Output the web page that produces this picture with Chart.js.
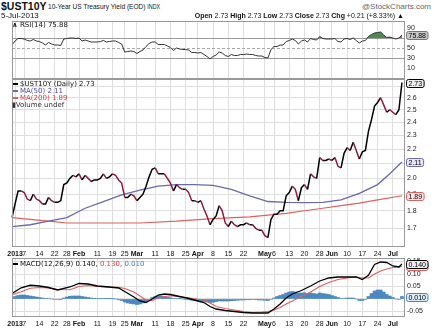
<!DOCTYPE html>
<html>
<head>
<meta charset="utf-8">
<title>$UST10Y</title>
<script src="https://cdn.jsdelivr.net/npm/chart.js@4.4.1/dist/chart.umd.min.js"></script>
<style>
  body { margin: 0; background: #fff; }
  #wrap { position: relative; width: 434px; height: 329px; overflow: hidden; background: #fff; }
  #wrap canvas { position: absolute; left: 0; }
  .t { position: absolute; white-space: nowrap; line-height: 1; font-family: "Liberation Sans", Arial, sans-serif; color: #111; }
  .lg { position: absolute; left: 12px; white-space: nowrap; line-height: 1; font: 7px "DejaVu Sans", sans-serif; color: #111; }
  .dash { display: inline-block; width: 5px; height: 2px; vertical-align: middle; margin: 0 2px 1px 1px; }
</style>
</head>
<body>
<div id="wrap">
  <canvas id="rsi" width="434" height="62" style="top:18px"></canvas>
  <canvas id="main" width="434" height="185" style="top:79px"></canvas>
  <canvas id="macd" width="434" height="71" style="top:258px"></canvas>

  <div class="t" style="left:1px;top:1px;font-size:10.5px;font-weight:bold">$UST10Y</div>
  <div class="t" style="left:48px;top:3px;font-size:8px;transform:scaleX(0.82);transform-origin:0 0">10-Year US Treasury Yield (EOD) <span style="font-size:6.5px">INDX</span></div>
  <div class="t" style="right:3px;top:3px;font-size:8px;color:#666">@StockCharts.com</div>
  <div class="t" style="left:1px;top:12px;font-size:8px">5-Jul-2013</div>
  <div class="t" style="right:30px;top:12px;font-size:7px"><b>Open</b> 2.73 <b>High</b> 2.73 <b>Low</b> 2.73 <b>Close</b> 2.73 <b>Chg</b> +0.21 (+8.33%) ▲</div>

  <div class="lg" style="top:21px"><b>∧</b> RSI(14) 75.88</div>
  <div class="lg" style="top:80px"><span class="dash" style="background:#000"></span>$UST10Y (Daily) 2.73</div>
  <div class="lg" style="top:87px;color:#4a4a9a"><span class="dash" style="background:#6a6aaa"></span>MA(50) 2.11</div>
  <div class="lg" style="top:94px;color:#d04545"><span class="dash" style="background:#e06060"></span>MA(200) 1.89</div>
  <div class="lg" style="top:101px;color:#333"><b>▮</b>Volume undef</div>
  <div class="lg" style="top:260px"><span class="dash" style="background:#000"></span>MACD(12,26,9) 0.140, <span style="color:#d04545">0.130</span>, <span style="color:#3a8ac0">0.010</span></div>
</div>

<script>
// trading days shown, Dec 31 2012 .. Jul 5 2013
const dec = [31];
const jan = [2,3,4,7,8,9,10,11,14,15,16,17,18,22,23,24,25,28,29,30,31];
const feb = [1,4,5,6,7,8,11,12,13,14,15,19,20,21,22,25,26,27,28];
const mar = [1,4,5,6,7,8,11,12,13,14,15,18,19,20,21,22,25,26,27,28];
const apr = [1,2,3,4,5,8,9,10,11,12,15,16,17,18,19,22,23,24,25,26,29,30];
const may = [1,2,3,6,7,8,9,10,13,14,15,16,17,20,21,22,23,24,28,29,30,31];
const jun = [3,4,5,6,7,10,11,12,13,14,17,18,19,20,21,24,25,26,27,28];
const jul = [1,2,3,5];

const tickDays = ['1/2','1/7','1/14','1/22','1/28','2/1','2/11','2/19','2/25','3/1','3/11','3/18','3/25','4/1','4/8','4/15','4/22','5/1','5/6','5/13','5/20','5/28','6/3','6/10','6/17','6/24','7/1'];
const tickText = ['2013','7','14','22','28','Feb','11','19','25','Mar','11','18','25','Apr','8','15','22','May','6','13','20','28','Jun','10','17','24','Jul'];
const boldTicks = ['2013','Feb','Mar','Apr','May','Jun','Jul'];

// close
const price = [1.76,
  1.84,1.92,1.92,1.91,1.87,1.86,1.90,1.87,1.86,1.84,1.84,1.88,1.86,1.85,1.85,1.86,1.96,1.97,2.00,2.02,2.01,
  2.03,1.99,2.02,2.00,1.98,1.99,1.99,2.00,2.03,2.00,2.01,2.03,2.02,1.99,1.97,1.88,1.88,1.90,1.89,
  1.86,1.88,1.90,1.95,2.01,2.06,2.07,2.03,2.03,2.03,2.00,1.97,1.92,1.96,1.94,1.93,1.93,1.91,1.86,1.86,
  1.85,1.86,1.81,1.77,1.72,1.75,1.77,1.83,1.80,1.73,1.71,1.74,1.72,1.71,1.72,1.72,1.73,1.72,1.72,1.70,1.69,1.69,
  1.66,1.65,1.75,1.78,1.78,1.80,1.80,1.89,1.91,1.95,1.93,1.86,1.94,1.96,1.93,2.03,2.01,2.00,2.14,2.12,2.12,2.13,
  2.12,2.14,2.08,2.07,2.17,2.21,2.19,2.25,2.19,2.13,2.18,2.19,2.33,2.42,2.53,2.56,2.60,2.54,2.48,2.50,
  2.48,2.46,2.50,2.73];

// moving averages, read at a few dates (index into the day list)
const ma50Idx = [0,6,12,18,24,30,36,42,48,54,60,66,72,78,84,90,96,102,108,114,120,124,128];
const ma50 = [1.71,1.72,1.74,1.76,1.815,1.855,1.895,1.925,1.95,1.96,1.96,1.955,1.93,1.89,1.855,1.85,1.848,1.85,1.865,1.905,1.96,2.03,2.11];
const ma200Idx = [0,6,12,18,30,42,54,66,78,84,90,96,102,108,114,120,128];
const ma200 = [1.76,1.75,1.74,1.73,1.73,1.73,1.74,1.755,1.765,1.775,1.785,1.80,1.815,1.83,1.845,1.865,1.89];

// RSI(14)
const rsi = [56,
  64,69,69,68,65,64,67,64,63,60,56,61,58,56,56,55,68,69,70,70,69,
  70,64,66,64,62,62,62,63,65,62,63,64,64,61,58,42,43,44,43,
  39,43,46,53,59,62,62,57,57,57,54,51,45,50,48,47,47,46,41,41,
  40,41,37,33,28,33,36,42,40,35,33,37,35,35,37,37,38,37,37,35,34,34,
  31,30,47,53,53,56,56,63,65,68,65,58,64,66,62,69,67,66,73,69,68,68,
  68,69,63,62,68,69,67,70,65,60,64,65,73,77,80,81,82,76,71,72,
  70,68,70,75.88];

// MACD(12,26,9)
const macdIdx = [0,3,6,9,12,15,19,22,25,28,32,35,37,40,42,44,46,48,50,52,55,58,61,63,65,67,70,73,76,79,82,84,86,88,90,92,95,98,101,104,107,110,113,115,117,119,121,123,125,127,128];
const macdLine = [0.022,0.045,0.055,0.052,0.046,0.036,0.048,0.062,0.060,0.052,0.048,0.044,0.030,0.008,-0.008,-0.014,0.000,0.016,0.020,0.018,0.010,0.002,-0.008,-0.014,-0.030,-0.040,-0.046,-0.050,-0.054,-0.056,-0.056,-0.056,-0.040,-0.020,0.004,0.020,0.034,0.052,0.072,0.084,0.088,0.088,0.088,0.078,0.095,0.138,0.148,0.146,0.132,0.128,0.140];
const signalLine = [0.017,0.029,0.043,0.046,0.044,0.038,0.037,0.050,0.054,0.050,0.047,0.047,0.042,0.028,0.012,-0.004,-0.006,0.004,0.010,0.013,0.009,0.005,-0.001,-0.004,-0.016,-0.030,-0.038,-0.044,-0.050,-0.054,-0.052,-0.050,-0.044,-0.034,-0.020,-0.008,0.010,0.028,0.050,0.066,0.078,0.084,0.088,0.084,0.084,0.100,0.112,0.120,0.126,0.128,0.130];
const hist = [
  0.005,0.010,0.014,0.016,0.016,0.014,0.012,0.010,0.008,0.006,
  0.004,0.002,0.002,0.000,-0.002,-0.002,-0.001,0.004,0.008,0.011,
  0.012,0.012,0.012,0.010,0.008,0.006,0.004,0.003,0.002,0.001,
  0.002,0.001,0.001,0.001,0.000,-0.003,-0.006,-0.012,-0.016,-0.018,
  -0.020,-0.022,-0.020,-0.016,-0.010,-0.002,0.006,0.010,0.012,0.012,
  0.010,0.008,0.005,0.002,0.002,0.001,0.000,-0.002,-0.003,-0.005,
  -0.006,-0.007,-0.008,-0.010,-0.012,-0.014,-0.013,-0.010,-0.008,-0.008,
  -0.008,-0.008,-0.007,-0.006,-0.005,-0.004,-0.004,-0.003,-0.003,-0.002,
  -0.003,-0.004,-0.004,-0.005,-0.006,-0.002,0.004,0.010,0.014,0.018,
  0.024,0.028,0.030,0.028,0.024,0.024,0.025,0.022,0.024,0.022,
  0.020,0.024,0.022,0.020,0.018,0.014,0.010,0.006,0.002,0.002,
  0.004,0.004,0.004,0.000,-0.006,-0.006,-0.002,0.010,0.022,0.032,
  0.036,0.036,0.028,0.018,0.012,0.006,0.000,-0.002,0.010];

const priceTicks = [1.7,1.8,1.9,2.0,2.1,2.2,2.3,2.4,2.5,2.6,2.7];
const rsiTicks = [10,30,50,70,90];
const macdTicks = [-0.05,0,0.05,0.10,0.15];

/* ---- build labels ---- */
const days = [];
[[12,dec],[1,jan],[2,feb],[3,mar],[4,apr],[5,may],[6,jun],[7,jul]].forEach(([m,list]) => list.forEach(d => days.push(m+'/'+d)));
const xLabels = days.concat(['']);
const tickIdx = tickDays.map(d => days.indexOf(d));
const tickMap = {};
tickIdx.forEach((i,k) => tickMap[i] = tickText[k]);
const pts = (idx, vals) => idx.map((i,k) => ({x: days[i], y: vals[k]}));

const family = '"Liberation Sans", Arial, sans-serif';
const gridColor = '#dedede';

/* ---- helpers ---- */
function xAxis(showLabels, h){
  return {
    offset:false,
    afterBuildTicks:s => { s.ticks = tickIdx.map(v => ({value:v})); },
    afterFit:s => { s.height = h; s.paddingLeft = 0; s.paddingRight = 0; },
    grid:{color:gridColor, drawTicks:false, offset:false},
    border:{display:false},
    ticks:{
      display:showLabels, autoSkip:false, maxRotation:0, padding:3, color:'#111',
      font:ctx => ({family, size:7, weight: ctx.tick && boldTicks.includes(tickMap[ctx.tick.value]) ? 'bold' : 'normal'}),
      callback:v => tickMap[v]
    }
  };
}

function yAxis(extra, vals, fmt){
  return Object.assign({
    position:'right',
    afterBuildTicks:s => { s.ticks = vals.map(v => ({value:v})); },
    afterFit:s => { s.width = 29; s.paddingTop = 0; s.paddingBottom = 0; },
    grid:{color:gridColor, drawTicks:false},
    border:{display:false},
    ticks:{padding:2, color:'#222', font:{family, size:7}, callback:fmt}
  }, extra);
}

// frame around the plot + boxed last values on the right axis
const panelFrame = {
  id:'panelFrame',
  afterDraw(chart, args, opts){
    const c = chart.ctx, a = chart.chartArea, y = chart.scales.y;
    c.save();
    c.strokeStyle = '#999';
    c.lineWidth = 1;
    c.strokeRect(a.left + 0.5, a.top + 0.5, a.right - a.left - 1, a.bottom - a.top - 1);
    c.font = '7px ' + family;
    c.textBaseline = 'middle';
    (opts.boxes || []).forEach(b => {
      const py = Math.round(y.getPixelForValue(b.value)) + 0.5;
      const w = c.measureText(b.text).width + 4;
      c.beginPath();
      c.roundRect(a.right + 1.5, py - 4, w, 8, 2);
      c.fillStyle = b.fill;
      c.fill();
      c.strokeStyle = b.color;
      c.stroke();
      c.fillStyle = '#000';
      c.fillText(b.text, a.right + 3.5, py + 0.5);
    });
    c.restore();
  }
};

const common = {
  responsive:false,
  animation:false,
  events:[],
};

/* ---- RSI panel ---- */
new Chart(document.getElementById('rsi'), {
  type:'line',
  data:{
    labels:xLabels,
    datasets:[{
      data:rsi,
      borderColor:'#333',
      borderWidth:1,
      pointRadius:0,
      fill:{target:{value:70}, above:'#4f8a4f', below:'rgba(0,0,0,0)'}
    }]
  },
  options:Object.assign({}, common, {
    layout:{padding:{left:12, top:3, bottom:1, right:0}},
    plugins:{legend:{display:false}, tooltip:{enabled:false},
      panelFrame:{boxes:[{value:75.88, text:'75.88', color:'#777', fill:'#c8c8c8'}]}},
    scales:{
      x:xAxis(false, 0),
      y:yAxis({min:-12, max:104,
        grid:{drawTicks:false, color:ctx => {
          const v = ctx.tick && ctx.tick.value;
          return (v === 70 || v === 30) ? '#9a9a9a' : v === 50 ? '#a8a8a8' : 'rgba(0,0,0,0)';
        }},
        border:{display:false, dash:ctx => (ctx.tick && ctx.tick.value === 50) ? [3,2] : []}
      }, rsiTicks, v => String(v))
    }
  }),
  plugins:[panelFrame]
});

/* ---- price panel ---- */
new Chart(document.getElementById('main'), {
  type:'line',
  data:{
    labels:xLabels,
    datasets:[
      {data:price, borderColor:'#000', borderWidth:1.5, pointRadius:0, order:0,
        segment:{borderColor:ctx => ctx.p1.parsed.y < ctx.p0.parsed.y ? '#8e1b3c' : '#000'}},
      {data:pts(ma50Idx, ma50), borderColor:'#6a6aaa', borderWidth:1.3, pointRadius:0, order:1},
      {data:pts(ma200Idx, ma200), borderColor:'#e06060', borderWidth:1.2, pointRadius:0, order:2}
    ]
  },
  options:Object.assign({}, common, {
    layout:{padding:{left:12, top:0, bottom:5, right:0}},
    plugins:{legend:{display:false}, tooltip:{enabled:false},
      panelFrame:{boxes:[
        {value:1.89, text:'1.89', color:'#e06060', fill:'#fbe3e3'},
        {value:2.11, text:'2.11', color:'#6a6aaa', fill:'#e6e6f6'},
        {value:2.73, text:'2.73', color:'#000', fill:'#eee'}
      ]}},
    scales:{
      x:xAxis(true, 12),
      y:yAxis({type:'logarithmic', min:1.648, max:2.763}, priceTicks, v => v.toFixed(1))
    }
  }),
  plugins:[panelFrame]
});

/* ---- MACD panel ---- */
new Chart(document.getElementById('macd'), {
  type:'bar',
  data:{
    labels:xLabels,
    datasets:[
      {type:'line', data:pts(macdIdx, macdLine), borderColor:'#000', borderWidth:1.3, pointRadius:0, order:0},
      {type:'line', data:pts(macdIdx, signalLine), borderColor:'#e06060', borderWidth:1.2, pointRadius:0, order:1},
      {type:'bar', data:hist, backgroundColor:'#4a88c4', barPercentage:1, categoryPercentage:1, order:2}
    ]
  },
  options:Object.assign({}, common, {
    layout:{padding:{left:12, top:0, bottom:0, right:0}},
    plugins:{legend:{display:false}, tooltip:{enabled:false},
      panelFrame:{boxes:[
        {value:0.010, text:'0.010', color:'#3a8ac0', fill:'#dcebf7'},
        {value:0.130, text:'0.130', color:'#e06060', fill:'#fbe3e3'},
        {value:0.140, text:'0.140', color:'#000', fill:'#eee'}
      ]}},
    scales:{
      x:xAxis(true, 12),
      y:yAxis({min:-0.072, max:0.164}, macdTicks, v => v.toFixed(2))
    }
  }),
  plugins:[panelFrame]
});
</script>
</body>
</html>
